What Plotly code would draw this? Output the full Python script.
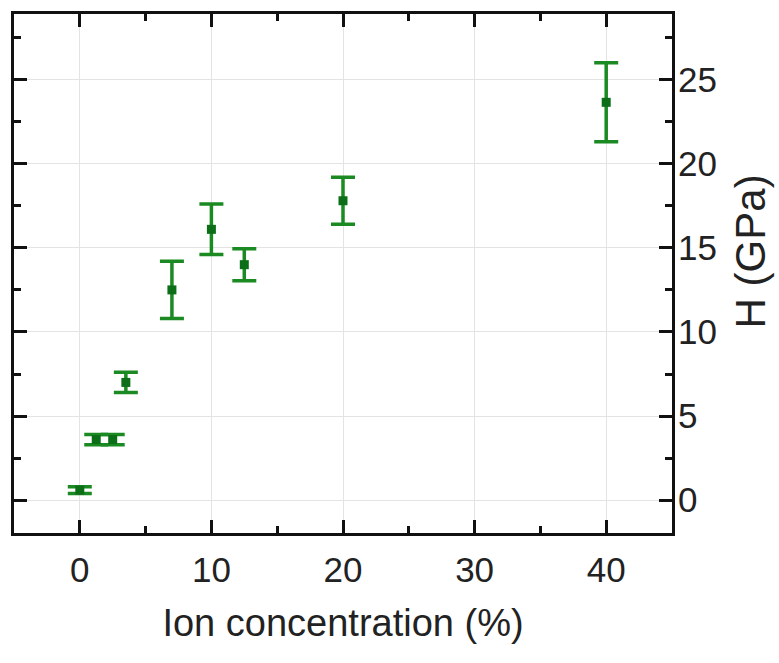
import plotly.graph_objects as go

# Data
ion_conc = [0, 1.25, 2.5, 3.5, 7, 10, 12.5, 20, 40]
hardness = [0.6, 3.6, 3.6, 7.0, 12.5, 16.1, 14.0, 17.8, 23.65]
hard_err = [0.2, 0.3, 0.3, 0.6, 1.7, 1.5, 0.95, 1.4, 2.35]

x_ticks = [0, 10, 20, 30, 40]
y_ticks = [0, 5, 10, 15, 20, 25]

green = "#1b8a22"
dark_green = "#0d6e18"
font_fam = "Liberation Sans, Arial, sans-serif"

fig = go.Figure()
fig.add_trace(go.Scatter(
    x=ion_conc, y=hardness, mode="markers",
    marker=dict(symbol="square", size=9, color=dark_green),
    error_y=dict(type="data", array=hard_err, visible=True,
                 color=green, thickness=3.5, width=12),
    showlegend=False,
))

axis_common = dict(
    showline=True, linecolor="#111", linewidth=3, mirror="allticks",
    ticks="inside", ticklen=13, tickwidth=3, tickcolor="#111",
    showgrid=True, gridcolor="#e3e3e3", gridwidth=1,
    zeroline=False,
    tickfont=dict(family=font_fam, size=35, color="#222"),
)

fig.update_xaxes(
    range=[-5.0, 45.0], tickmode="array", tickvals=x_ticks,
    ticktext=[str(v) for v in x_ticks],
    minor=dict(dtick=5, tick0=0, ticks="inside", ticklen=7, tickwidth=3,
               tickcolor="#111", showgrid=False),
    ticklabelstandoff=4,
    title=dict(text="Ion concentration (%)", standoff=22,
               font=dict(family=font_fam, size=38, color="#222")),
    **axis_common,
)
fig.update_yaxes(
    range=[-1.95, 28.9], side="right", tickmode="array", tickvals=y_ticks,
    ticktext=[str(v) for v in y_ticks],
    minor=dict(dtick=2.5, tick0=0, ticks="inside", ticklen=7, tickwidth=3,
               tickcolor="#111", showgrid=False),
    ticklabelstandoff=-4,
    **axis_common,
)

fig.add_annotation(
    text="H (GPa)", textangle=-90, xref="paper", yref="paper",
    x=(751 - 12) / 660, y=(533 - 250) / 522, xanchor="center", yanchor="middle",
    showarrow=False, font=dict(family=font_fam, size=42, color="#222"),
)

fig.update_layout(
    width=779, height=663,
    margin=dict(l=12, r=107, t=11, b=130),
    paper_bgcolor="white", plot_bgcolor="white",
)

fig.write_html("out.html")
